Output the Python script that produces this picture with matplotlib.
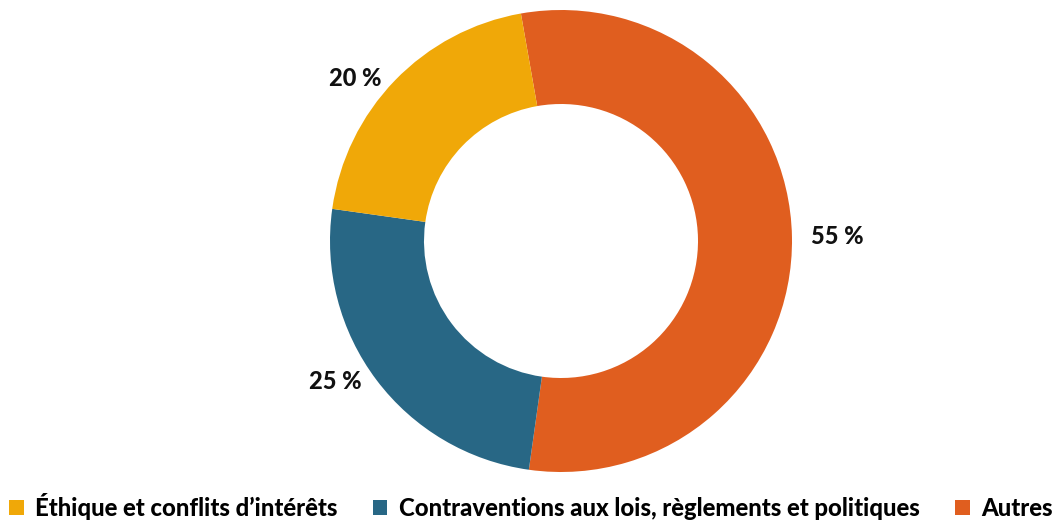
import numpy as np
import matplotlib
matplotlib.use("Agg")
import matplotlib.pyplot as plt

# data
labels = ["Autres", "Contraventions aux lois, règlements et politiques", "Éthique et conflits d’intérêts"]
values = [55, 25, 20]
colors = ["#E05E1F", "#286785", "#F0A808"]
pct_text = ["55 %", "25 %", "20 %"]
legend_order = [2, 1, 0]

plt.rcParams['font.family'] = ['Lato', 'DejaVu Sans']

fig = plt.figure(figsize=(10.62, 5.23), dpi=100)
ax = fig.add_axes([0, 0, 1, 1])

cx, cy, R = 561, 282, 231
wedges, _ = ax.pie(values, colors=colors, startangle=100, counterclock=False,
                   center=(cx, cy), radius=R, frame=True,
                   wedgeprops=dict(width=R - 137, linewidth=0))
ax.set_xlim(0, 1062)
ax.set_ylim(0, 523)
ax.axis("off")

for w, t in zip(wedges, pct_text):
    ang = np.deg2rad((w.theta1 + w.theta2) / 2)
    x = cx + 250 * np.cos(ang)
    y = cy + 234 * np.sin(ang)
    ha = "left" if np.cos(ang) > 0 else "right"
    ax.text(x, y, t, ha=ha, va="center", fontsize=17, fontweight="black", color="#111111")

handles = [wedges[i] for i in legend_order]
names = [labels[i] for i in legend_order]
fig.legend(handles, names, loc="lower center", ncol=3, frameon=False,
           bbox_to_anchor=(0.5, -0.035), prop=dict(weight="black", size=17.2),
           handlelength=0.62, handleheight=0.62, handletextpad=0.5, columnspacing=1.45)

fig.savefig("out.png", dpi=100)
